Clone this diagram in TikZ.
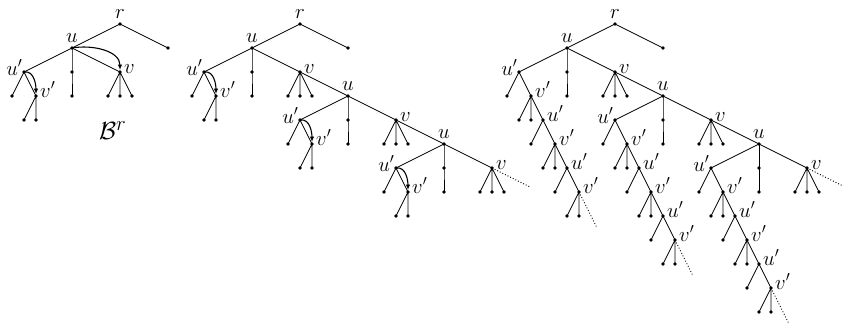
\documentclass[tikz,border=0pt]{standalone}
\usepackage{amsmath,amssymb}
\usepackage{tikz}
\usetikzlibrary{arrows.meta}

\tikzset{
  edge/.style={line width=0.8pt},
  arr/.style={line width=1.1pt,-{Latex[length=5.5pt,width=4.5pt]},shorten >=2pt},
  cont/.style={line width=0.9pt,dotted},
  lab/.style={inner sep=0pt},
  lup/.style={lab,anchor=base,yshift=6pt},
  lleft/.style={lab,anchor=base east,xshift=-1.5pt,yshift=-3pt},
  lright/.style={lab,anchor=base west,xshift=4pt,yshift=-1pt},
}
\newcommand{\dotr}{1.8pt}

% v node with its three leaves
\newcommand{\vfan}[1]{%
  \coordinate (#1-a) at ([shift={(-1,-1)}]#1);
  \coordinate (#1-b) at ([shift={(0,-1)}]#1);
  \coordinate (#1-c) at ([shift={(1,-1)}]#1);
  \draw[edge] (#1)--(#1-a) (#1)--(#1-b) (#1)--(#1-c);
  \foreach \n in {#1,#1-a,#1-b,#1-c} \fill (\n) circle (\dotr);
  \node[lright] (#1-L) at (#1) {$v$};}
% u node with the path of two below it
\newcommand{\umid}[1]{%
  \coordinate (#1-m) at ([shift={(0,-1)}]#1);
  \coordinate (#1-n) at ([shift={(0,-2)}]#1);
  \draw[edge] (#1)--(#1-m)--(#1-n);
  \foreach \n in {#1,#1-m,#1-n} \fill (\n) circle (\dotr);
  \node[lup] (#1-L) at (#1) {$u$};}
% u' node: leaf on the left, v' on the right, two leaves below v'
\newcommand{\upair}[1]{%
  \coordinate (#1-l) at ([shift={(-1,-1)}]#1);
  \coordinate (#1-v) at ([shift={(1,-1)}]#1);
  \coordinate (#1-va) at ([shift={(-1,-1)}]#1-v);
  \coordinate (#1-vb) at ([shift={(0,-1)}]#1-v);
  \draw[edge] (#1-l)--(#1)--(#1-v)--(#1-vb) (#1-v)--(#1-va);
  \foreach \n in {#1,#1-l,#1-v,#1-va,#1-vb} \fill (\n) circle (\dotr);
  \node[lright] (#1-vL) at (#1-v) {$v'$};}

\begin{document}
\begin{tikzpicture}[x=12pt,y=24pt,font=\fontsize{20.74}{24}\selectfont]
  \useasboundingbox (0,0) rectangle (70.25,-13.75);
  % first tree
  \coordinate(Ar)at(10,-1); \coordinate(Arc)at(14,-2);
  \coordinate(Au)at(6,-2); \coordinate(Aup)at(2,-3); \coordinate(Av)at(10,-3);
  \draw[edge] (Arc)--(Ar)--(Au)--(Aup) (Au)--(Av);
  \umid{Au} \vfan{Av} \upair{Aup}
  \foreach \n in {Ar,Arc} \fill (\n) circle (\dotr);
  \draw[arr] (Au) to[out=10,in=90] (Av);
  \draw[arr] (Aup) to[out=10,in=90] (Aup-v);
  \node[lup] (Ar-L) at (Ar) {$r$};
  \node[lleft] (Aup-L) at (Aup) {$u'$};
  \node[lab,font=\fontsize{24.88}{28}\selectfont] (Abr) at (9.4,-5.45) {$\mathcal{B}^r$};

  % second tree
  \coordinate(Br)at(25,-1); \coordinate(Brc)at(29,-2);
  \foreach \k in {0,1,2}{
    \coordinate (Bu\k) at (21+8*\k,-2-2*\k);
    \coordinate (Bup\k) at (17+8*\k,-3-2*\k);
    \coordinate (Bv\k) at (25+8*\k,-3-2*\k);
    \draw[edge] (Bup\k)--(Bu\k)--(Bv\k);
    \umid{Bu\k} \vfan{Bv\k} \upair{Bup\k}
    \draw[arr] (Bup\k) to[out=10,in=90] (Bup\k-v);
    \node[lleft] (Bup\k-L) at (Bup\k) {$u'$};
  }
  \coordinate (Bend) at ([shift={(3.2,-0.8)}]Bv2);
  \draw[edge] (Brc)--(Br)--(Bu0) (Bv0)--(Bu1) (Bv1)--(Bu2);
  \draw[cont] (Bv2)--(Bend);
  \foreach \n in {Br,Brc} \fill (\n) circle (\dotr);
  \node[lup] (Br-L) at (Br) {$r$};

  % third tree
  \coordinate(Cr)at(51.25,-1); \coordinate(Crc)at(55.25,-2);
  \foreach \k in {0,1,2}{
    \coordinate (Cu\k) at (47.25+8*\k,-2-2*\k);
    \coordinate (Cup\k) at (43.25+8*\k,-3-2*\k);
    \coordinate (Cv\k) at (51.25+8*\k,-3-2*\k);
    \draw[edge] (Cup\k)--(Cu\k)--(Cv\k);
    \umid{Cu\k} \vfan{Cv\k} \upair{Cup\k}
    \node[lleft] (Cup\k-L) at (Cup\k) {$u'$};
    % the chain of u', v' goes on down to the right
    \coordinate (Cq\k) at ([shift={(1,-1)}]Cup\k-v);
    \draw[edge] (Cup\k-v)--(Cq\k);
    \upair{Cq\k}
    \node[lright] (Cq\k-L) at (Cq\k) {$u'$};
    \coordinate (Cs\k) at ([shift={(1,-1)}]Cq\k-v);
    \draw[edge] (Cq\k-v)--(Cs\k);
    \upair{Cs\k}
    \node[lright] (Cs\k-L) at (Cs\k) {$u'$};
    \coordinate (Cs\k-e) at ([shift={(1.5,-1.5)}]Cs\k-v);
    \draw[cont] (Cs\k-v)--(Cs\k-e);
  }
  \coordinate (Cend) at ([shift={(3.2,-0.8)}]Cv2);
  \draw[edge] (Crc)--(Cr)--(Cu0) (Cv0)--(Cu1) (Cv1)--(Cu2);
  \draw[cont] (Cv2)--(Cend);
  \foreach \n in {Cr,Crc} \fill (\n) circle (\dotr);
  \node[lup] (Cr-L) at (Cr) {$r$};
\end{tikzpicture}
\end{document}
